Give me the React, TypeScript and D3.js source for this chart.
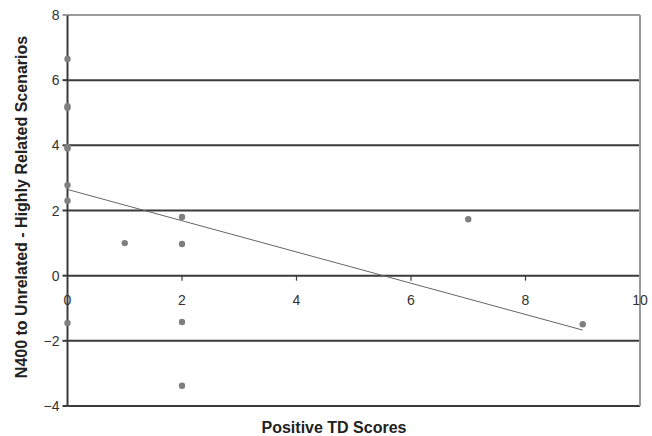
import React from "react";
import * as d3 from "d3";

const xValues = [0, 0, 0, 0, 0, 0, 0, 0, 1, 2, 2, 2, 2, 7, 9];
const yValues = [6.65, 5.2, 5.15, 3.95, 3.9, 2.78, 2.3, -1.45, 1.0, 1.8, 0.97, -1.42, -3.38, 1.73, -1.49];
const xTicks = [0, 2, 4, 6, 8, 10];
const yTicks = [-4, -2, 0, 2, 4, 6, 8];
const xTitle = "Positive TD Scores";
const yTitle = "N400 to Unrelated - Highly Related Scenarios";

export default function App() {
  const W = 652, H = 436;
  const left = 67.5, right = 640, top = 15, bottom = 406;
  const x = d3.scaleLinear().domain([0, 10]).range([left, right]);
  const y = d3.scaleLinear().domain([-4, 8]).range([bottom, top]);

  const n = xValues.length;
  const mx = d3.mean(xValues)!;
  const my = d3.mean(yValues)!;
  let sxy = 0, sxx = 0;
  for (let i = 0; i < n; i++) {
    sxy += (xValues[i] - mx) * (yValues[i] - my);
    sxx += (xValues[i] - mx) ** 2;
  }
  const slope = sxy / sxx;
  const intercept = my - slope * mx;
  const x0 = d3.min(xValues)!, x1 = d3.max(xValues)!;
  const line = d3.line<number>().x((d) => x(d)).y((d) => y(intercept + slope * d));

  const font = "Arial, 'Liberation Sans', sans-serif";
  const dark = "#3a3a3a";
  const light = "#9a9a9a";
  const fmt = (v: number) => (v < 0 ? "\u2212" + Math.abs(v) : String(v));

  return (
    <svg width={W} height={H} style={{ position: "absolute", left: 0, top: 0 }} fontFamily={font}>
      <rect width={W} height={H} fill="#fff" />
      {yTicks.map((t) => (
        <line key={"g" + t} x1={left} x2={right} y1={y(t)} y2={y(t)}
          stroke={t === 8 ? light : dark} strokeWidth={2} />
      ))}
      <line x1={right} x2={right} y1={y(8)} y2={y(-4)} stroke={light} strokeWidth={2} />
      <line x1={left} x2={left} y1={y(8)} y2={y(-4)} stroke={dark} strokeWidth={2} />
      {yTicks.map((t) => (
        <g key={"yt" + t}>
          <line x1={left - 5} x2={left} y1={y(t)} y2={y(t)} stroke={t === 8 ? light : dark} strokeWidth={2} />
          <text x={left - 8} y={y(t)} dy="0.36em" textAnchor="end" fontSize={14} fill="#333">{fmt(t)}</text>
        </g>
      ))}
      {xTicks.map((t) => (
        <g key={"xt" + t}>
          {t > 0 && t < 10 && (
            <line x1={x(t)} x2={x(t)} y1={y(0)} y2={y(0) + 5} stroke={dark} strokeWidth={1.2} />
          )}
          <text x={x(t)} y={y(0) + 24} dy="0.36em" textAnchor="middle" fontSize={14} fill="#333">{fmt(t)}</text>
        </g>
      ))}
      <path d={line([x0, x1]) || ""} fill="none" stroke="#666" strokeWidth={1} />
      {xValues.map((xv, i) => (
        <circle key={"p" + i} cx={x(xv)} cy={y(yValues[i])} r={3.2} fill="#7f7f7f" />
      ))}
      <text x={334} y={427} dy="0.36em" textAnchor="middle" fontSize={16} fontWeight="bold" fill="#222">{xTitle}</text>
      <text transform={`translate(21,207) rotate(-90)`} textAnchor="middle" dy="0.36em" fontSize={16} fontWeight="bold" fill="#222">{yTitle}</text>
    </svg>
  );
}
